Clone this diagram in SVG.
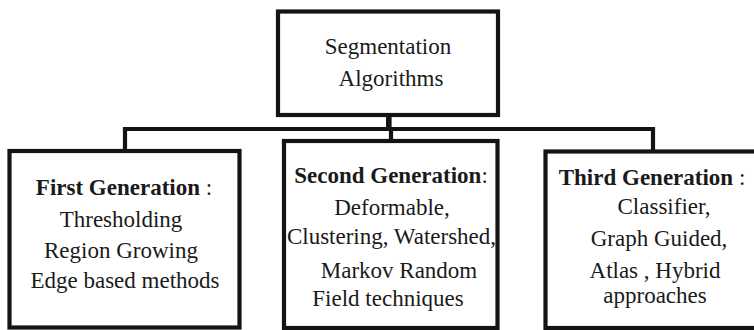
<svg xmlns="http://www.w3.org/2000/svg" width="754" height="330" viewBox="0 0 754 330">
<style>
.box{fill:#fff;stroke:#141414;stroke-width:4.2}
.ln{fill:none;stroke:#141414;stroke-width:4.2}
.t{font-family:"Liberation Serif","Times New Roman",serif;font-size:23px;fill:#1a1a1a;text-anchor:middle}
.b{font-weight:bold}
</style>
<rect width="754" height="330" fill="#fff"/>
<g id="connectors">
<path class="ln" d="M389.5 115 V129 M125 151 V129 H653 V151 M391 129 V141"/>
<rect x="386" y="115" width="4" height="14" fill="#141414"/>
</g>
<g id="root">
<rect class="box" x="278" y="11.5" width="220" height="103.5"/>
<text class="t" x="388" y="54">Segmentation</text>
<text class="t" x="391" y="86">Algorithms</text>
</g>
<g id="first">
<rect class="box" x="9.5" y="151" width="230" height="176.5"/>
<text class="t" x="124" y="195"><tspan class="b">First Generation</tspan> :</text>
<text class="t" x="121" y="227">Thresholding</text>
<text class="t" x="121" y="258">Region Growing</text>
<text class="t" x="125" y="288">Edge based methods</text>
</g>
<g id="second">
<rect class="box" x="284" y="141" width="213.5" height="187"/>
<text class="t" x="391" y="183"><tspan class="b">Second Generation</tspan>:</text>
<text class="t" x="392" y="215">Deformable,</text>
<text class="t" x="391.5" y="244">Clustering, Watershed,</text>
<text class="t" x="399" y="278">Markov Random</text>
<text class="t" x="388" y="306">Field techniques</text>
</g>
<g id="third">
<rect class="box" x="545.5" y="151.5" width="212" height="176.5"/>
<text class="t" x="652" y="185"><tspan class="b">Third Generation</tspan> :</text>
<text class="t" x="664" y="214">Classifier,</text>
<text class="t" x="659" y="246">Graph Guided,</text>
<text class="t" x="655" y="278">Atlas , Hybrid</text>
<text class="t" x="655" y="303">approaches</text>
</g>
</svg>
